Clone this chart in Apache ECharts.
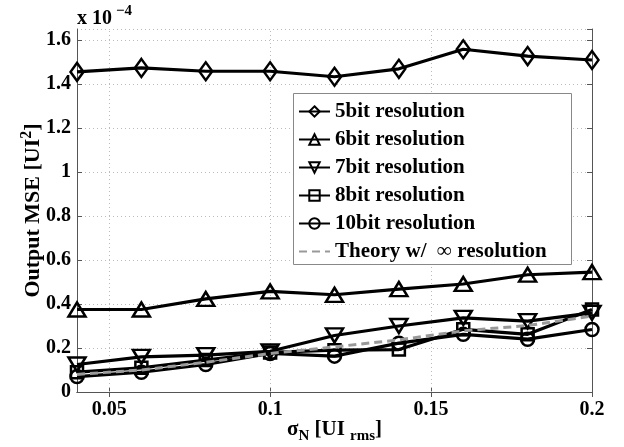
<!DOCTYPE html>
<html><head><meta charset="utf-8">
<script src="https://cdn.jsdelivr.net/npm/echarts@6/dist/echarts.min.js"></script>
<style>html,body{margin:0;padding:0;background:#fff}#c{width:624px;height:447px}</style>
</head><body><div id="c"></div>
<script>
const xValues = [0.04, 0.06, 0.08, 0.1, 0.12, 0.14, 0.16, 0.18, 0.2];
const bit5  = [1.455, 1.473, 1.458, 1.458, 1.433, 1.469, 1.558, 1.527, 1.509];
const bit6  = [0.375, 0.375, 0.423, 0.457, 0.442, 0.468, 0.491, 0.533, 0.545];
const bit7  = [0.125, 0.160, 0.168, 0.185, 0.257, 0.300, 0.337, 0.322, 0.360];
const bit8  = [0.090, 0.110, 0.145, 0.180, 0.190, 0.193, 0.285, 0.262, 0.375];
const bit10 = [0.070, 0.090, 0.125, 0.175, 0.163, 0.222, 0.262, 0.240, 0.284];
const theory = [0.080, 0.100, 0.135, 0.175, 0.205, 0.237, 0.278, 0.302, 0.345];
const xTicks = [0.05, 0.1, 0.15, 0.2];
const seriesNames = ['5bit resolution', '6bit resolution', '7bit resolution', '8bit resolution', '10bit resolution', 'Theory w/  \u221E resolution'];

const FONT = 'Liberation Serif';
const chart = echarts.init(document.getElementById('c'), null, {renderer: 'canvas'});
function pairs(arr) { return arr.map((v, i) => [xValues[i], v]); }
function mk(name, data, symbol, size, rotate) {
  return {
    name, type: 'line', data: pairs(data), symbol, symbolSize: size, symbolRotate: rotate || 0,
    showAllSymbol: true,
    lineStyle: {color: '#000', width: 3.2},
    itemStyle: {color: 'rgba(255,255,255,0)', borderColor: '#000', borderWidth: 2.5},
    emphasis: {disabled: true}, z: 3
  };
}
const series = [
  mk(seriesNames[0], bit5, 'diamond', [13, 18]),
  mk(seriesNames[1], bit6, 'triangle', [17, 14]),
  mk(seriesNames[2], bit7, 'triangle', [17, 14], 180),
  mk(seriesNames[3], bit8, 'rect', [12, 12]),
  mk(seriesNames[4], bit10, 'circle', [13, 13]),
  {
    name: seriesNames[5], type: 'line', data: pairs(theory), symbol: 'none',
    lineStyle: {color: '#999', width: 3, type: [8, 5]},
    itemStyle: {color: '#999'}, emphasis: {disabled: true}, z: 4
  }
];
series[0].markLine = {
  silent: true, symbol: 'none', label: {show: false},
  lineStyle: {color: '#bbb', type: [1, 3], width: 1},
  data: xTicks.slice(0, 3).map(v => ({xAxis: v})), z: 1, animation: false
};
const labelStyle = {fontFamily: FONT, fontWeight: 'bold', fontSize: 20, color: '#000'};
const legendData = seriesNames.map((n, i) => i === 5
  ? {name: n, itemStyle: {color: 'rgba(0,0,0,0)', borderWidth: 0, opacity: 0}}
  : {name: n});
chart.setOption({
  animation: false,
  backgroundColor: '#fff',
  grid: {left: 77, right: 32, top: 29, bottom: 55, show: false, containLabel: false, outerBoundsMode: 'none'},
  xAxis: [{
    type: 'value', min: 0.04, max: 0.2,
    axisLine: {show: true, lineStyle: {color: '#555', width: 1}},
    axisTick: {show: true, inside: true, length: 5, customValues: xTicks, lineStyle: {color: '#555'}},
    axisLabel: Object.assign({customValues: xTicks, margin: 8}, labelStyle),
    splitLine: {show: false},
    name: '\u03C3{sub|N} [UI {sub|rms}]', nameLocation: 'middle', nameGap: 23, nameMoveOverlap: false,
    nameTextStyle: Object.assign({}, labelStyle, {fontSize: 21, rich: {sub: {fontFamily: FONT, fontWeight: 'bold', fontSize: 15, padding: [14, 0, 0, 0]}}})
  }, {
    type: 'value', min: 0.04, max: 0.2, position: 'top',
    axisLine: {show: true, lineStyle: {color: '#555', width: 1}},
    axisTick: {show: true, inside: true, length: 5, customValues: xTicks, lineStyle: {color: '#555'}},
    axisLabel: {show: false}, splitLine: {show: false}
  }],
  yAxis: [{
    type: 'value', min: 0, max: 1.65, interval: 0.2,
    axisLine: {show: true, lineStyle: {color: '#555', width: 1}},
    axisTick: {show: true, inside: true, length: 5, lineStyle: {color: '#555'}},
    axisLabel: Object.assign({margin: 6, showMaxLabel: false}, labelStyle),
    splitLine: {show: true, lineStyle: {color: '#bbb', type: [1, 3], width: 1}},
    name: 'Output MSE [UI{sup|2}]', nameLocation: 'middle', nameGap: 30, nameMoveOverlap: false,
    nameTextStyle: Object.assign({}, labelStyle, {fontSize: 22, rich: {sup: {fontFamily: FONT, fontWeight: 'bold', fontSize: 16, padding: [0, 0, 12, 0]}}})
  }, {
    type: 'value', min: 0, max: 1.65, interval: 0.2, position: 'right',
    axisLine: {show: true, lineStyle: {color: '#555', width: 1}},
    axisTick: {show: true, inside: true, length: 5, lineStyle: {color: '#555'}},
    axisLabel: {show: false}, splitLine: {show: false}
  }],
  legend: {
    orient: 'vertical', left: 298, top: 101, padding: 0, itemWidth: 31, itemHeight: 13, itemGap: 7,
    data: legendData,
    textStyle: {fontFamily: FONT, fontWeight: 'bold', fontSize: 21, color: '#000', lineHeight: 20},
    selectedMode: false, z: 6
  },
  graphic: [
    {type: 'rect', left: 293, top: 93, z: 5, shape: {width: 278, height: 171},
     style: {fill: '#fff', stroke: '#888', lineWidth: 1}},
    {type: 'text', left: 77, top: 4, z: 5,
     style: {text: 'x 10{sup|\u22124}', font: 'bold 20px "Liberation Serif"', fill: '#000',
       rich: {sup: {font: 'bold 15px "Liberation Serif"', fill: '#000', padding: [0, 0, 14, 4]}}}}
  ],
  series
});
</script></body></html>
